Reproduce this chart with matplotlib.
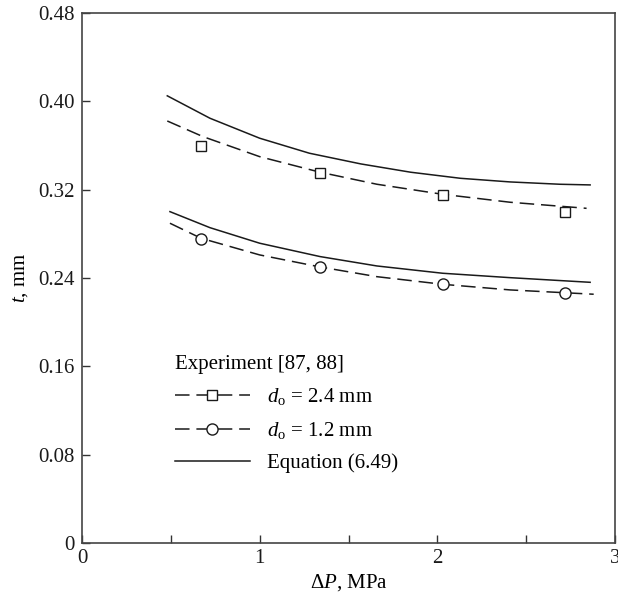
import matplotlib
matplotlib.use("Agg")
import matplotlib.pyplot as plt
from matplotlib.lines import Line2D
from matplotlib.ticker import MultipleLocator

plt.rcParams['font.family'] = ['Liberation Serif', 'DejaVu Serif']
plt.rcParams['mathtext.fontset'] = 'custom'
plt.rcParams['mathtext.rm'] = 'Liberation Serif'
plt.rcParams['mathtext.it'] = 'Liberation Serif:italic'

# Equation (6.49) curves
eq_big_x = [0.48, 0.72, 1.00, 1.28, 1.57, 1.85, 2.13, 2.41, 2.69, 2.86]
eq_big_y = [0.405, 0.3847, 0.3666, 0.3530, 0.3433, 0.3358, 0.3303, 0.3270, 0.3249, 0.3243]
eq_small_x = [0.495, 0.72, 1.00, 1.34, 1.66, 2.03, 2.41, 2.86]
eq_small_y = [0.3001, 0.2856, 0.2715, 0.2594, 0.2509, 0.2443, 0.2403, 0.2361]

# Dashed fit lines through experiments
fit_big_x = [0.48, 0.68, 1.00, 1.34, 1.66, 2.03, 2.41, 2.84]
fit_big_y = [0.3822, 0.3681, 0.3499, 0.3358, 0.3249, 0.3158, 0.3086, 0.3031]
fit_small_x = [0.495, 0.67, 1.00, 1.34, 1.66, 2.03, 2.41, 2.88]
fit_small_y = [0.2896, 0.2760, 0.2609, 0.2500, 0.2412, 0.2343, 0.2292, 0.2253]

# Experiment points [87, 88]
exp_x = [0.67, 1.34, 2.03, 2.72]
exp_big_y = [0.3596, 0.3349, 0.3152, 0.3001]
exp_small_y = [0.2757, 0.2500, 0.2343, 0.2267]

x_ticks = [0, 1, 2, 3]
y_ticks = [0, 0.08, 0.16, 0.24, 0.32, 0.40, 0.48]
y_tick_labels = ['0', '0.08', '0.16', '0.24', '0.32', '0.40', '0.48']

fs = 15

fig = plt.figure(figsize=(6.18, 5.98), dpi=100)
ax = fig.add_axes([82/618, 1-543/598, 533/618, 530/598])

lw = 1.1
dash = (0, (9.5, 4.5))
ax.plot(eq_big_x, eq_big_y, color='#1a1a1a', lw=lw)
ax.plot(eq_small_x, eq_small_y, color='#1a1a1a', lw=lw)
ax.plot(fit_big_x, fit_big_y, color='#1a1a1a', lw=lw, linestyle=dash)
ax.plot(fit_small_x, fit_small_y, color='#1a1a1a', lw=lw, linestyle=dash)
ax.plot(exp_x, exp_big_y, linestyle='none', marker='s', ms=7.5, mfc='white',
        mec='#1a1a1a', mew=1.0, zorder=5)
ax.plot(exp_x, exp_small_y, linestyle='none', marker='o', ms=8, mfc='white',
        mec='#1a1a1a', mew=1.0, zorder=5)

ax.set_xlim(0, 3)
ax.set_ylim(0, 0.48)
ax.set_xticks(x_ticks)
ax.set_xticklabels([str(v) for v in x_ticks])
ax.xaxis.set_minor_locator(MultipleLocator(0.5))
ax.set_yticks(y_ticks)
ax.set_yticklabels(y_tick_labels)
ax.tick_params(which='both', direction='in', length=6, width=1, labelsize=fs,
               color='#333333', labelcolor='#1a1a1a')
ax.tick_params(axis='x', pad=4)
ax.tick_params(axis='y', pad=5)
for s in ax.spines.values():
    s.set_linewidth(1.2)
    s.set_color('#444444')

ax.set_xlabel(r'Δ$\mathit{P}$, MPa', fontsize=fs, labelpad=3)
ax.set_ylabel(r'$\mathit{t}$, mm', fontsize=fs, labelpad=6)

handles = [
    Line2D([], [], color='#1a1a1a', lw=lw, linestyle=dash, marker='s', ms=7.5,
           mfc='white', mec='#1a1a1a', mew=1.0),
    Line2D([], [], color='#1a1a1a', lw=lw, linestyle=dash, marker='o', ms=8,
           mfc='white', mec='#1a1a1a', mew=1.0),
    Line2D([], [], color='#1a1a1a', lw=lw),
]
labels = [r'$d_\mathrm{o}$ = 2.4 mm', r'$d_\mathrm{o}$ = 1.2 mm', 'Equation (6.49)']
leg = ax.legend(handles, labels, title='Experiment [87, 88]', loc='upper left',
                bbox_to_anchor=(0.174, 0.355), frameon=False, fontsize=fs,
                title_fontsize=fs, handlelength=3.6, handletextpad=0.85,
                labelspacing=0.6, borderpad=0, borderaxespad=0, numpoints=1,
                alignment='left')

fig.savefig('out.png', dpi=100)
